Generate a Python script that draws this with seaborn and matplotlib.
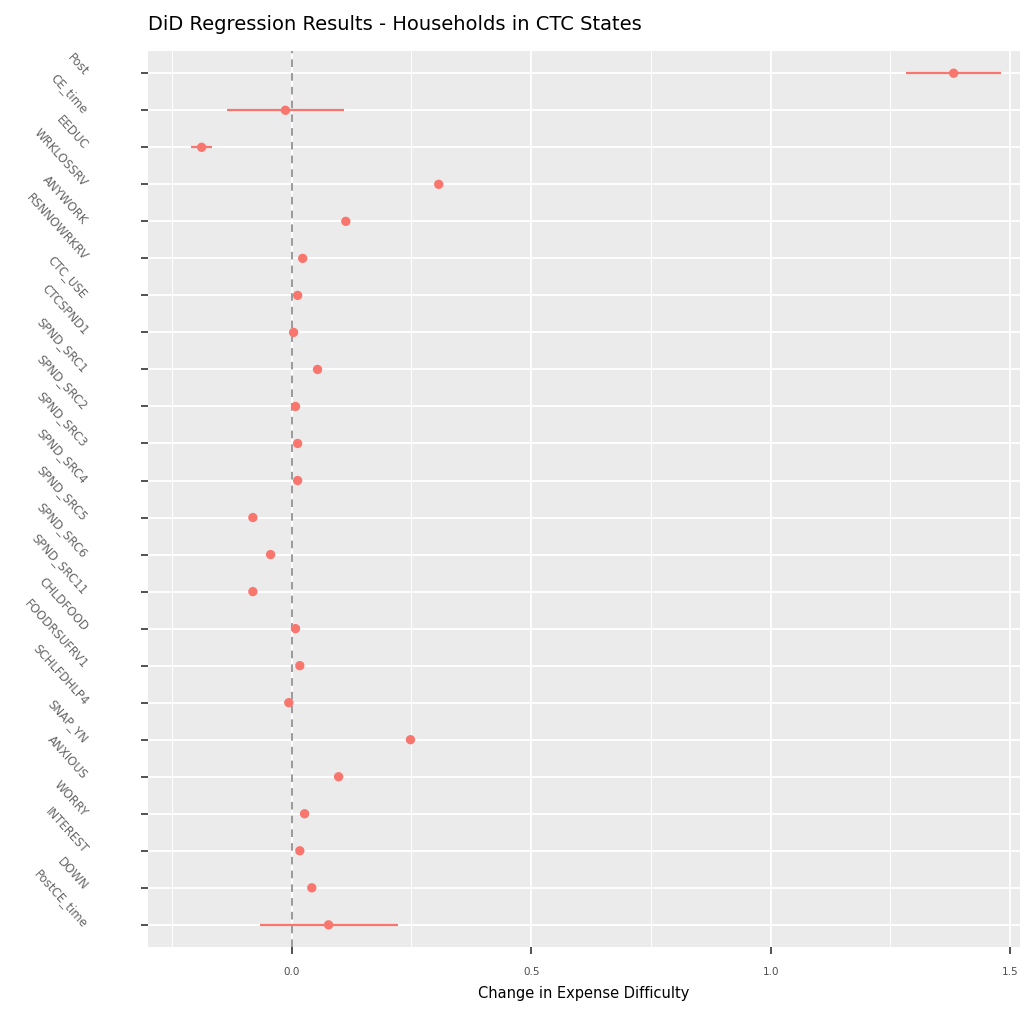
import numpy as np
import matplotlib
matplotlib.use("Agg")
import matplotlib.pyplot as plt
import seaborn as sns
import pandas as pd

terms = ["Post", "CE_time", "EEDUC", "WRKLOSSRV", "ANYWORK", "RSNNOWRKRV",
         "CTC_USE", "CTCSPND1", "SPND_SRC1", "SPND_SRC2", "SPND_SRC3",
         "SPND_SRC4", "SPND_SRC5", "SPND_SRC6", "SPND_SRC11", "CHLDFOOD",
         "FOODRSUFRV1", "SCHLFDHLP4", "SNAP_YN", "ANXIOUS", "WORRY",
         "INTEREST", "DOWN", "PostCE_time"]
coef = [1.382, -0.013, -0.188, 0.307, 0.113, 0.023, 0.0125, 0.004, 0.054,
        0.008, 0.0125, 0.0125, -0.081, -0.044, -0.081, 0.008, 0.017, -0.006,
        0.248, 0.098, 0.027, 0.017, 0.042, 0.077]
ci_low = [1.282, -0.136, -0.211, 0.302, 0.108, 0.019, 0.009, 0.001, 0.049,
          0.005, 0.009, 0.009, -0.085, -0.048, -0.085, 0.005, 0.013, -0.009,
          0.243, 0.093, 0.023, 0.013, 0.038, -0.067]
ci_high = [1.480, 0.109, -0.167, 0.312, 0.118, 0.027, 0.016, 0.007, 0.059,
           0.011, 0.016, 0.016, -0.077, -0.040, -0.077, 0.011, 0.021, -0.003,
           0.253, 0.103, 0.031, 0.021, 0.046, 0.223]

df = pd.DataFrame({"term": terms, "coef": coef, "lo": ci_low, "hi": ci_high})
df["pos"] = np.arange(len(df))

sns.set_theme(style="darkgrid")
plt.rcParams["font.family"] = ["DejaVu Sans"]

fig = plt.figure(figsize=(10.29, 10.12), dpi=100)
ax = fig.add_axes([0.1438, 0.0632, 0.8472, 0.8854])
ax.set_facecolor("#EBEBEB")

red = "#F8766D"
ax.hlines(df["pos"], df["lo"], df["hi"], color=red, linewidth=1.6, zorder=3)
sns.scatterplot(data=df, x="coef", y="pos", color=red, s=45,
                edgecolor="none", ax=ax, zorder=4)
ax.axvline(0, color="#7F7F7F", linestyle=(0, (5, 4)), linewidth=1.1, zorder=2)

ax.set_xlim(-0.30, 1.52)
ax.set_ylim(len(df) - 0.4, -0.6)
ax.set_xticks([0.0, 0.5, 1.0, 1.5])
ax.set_xticklabels(["0.0", "0.5", "1.0", "1.5"])
ax.set_xticks([-0.25, 0.25, 0.75, 1.25], minor=True)
ax.set_yticks(df["pos"])
ax.set_yticklabels(df["term"], rotation=-48, ha="right", va="center",
                   rotation_mode="anchor")

ax.grid(True, which="major", color="white", linewidth=1.3)
ax.grid(True, which="minor", axis="x", color="white", linewidth=0.7)
for s in ax.spines.values():
    s.set_visible(False)

ax.tick_params(axis="both", which="major", length=5, width=1.2,
               color="#333333", labelcolor="#4D4D4D", labelsize=7.5,
               bottom=True, left=True)
ax.tick_params(axis="y", pad=40, labelsize=8.5, labelcolor="#666666")
ax.tick_params(axis="x", pad=9)
ax.tick_params(which="minor", length=0)

ax.set_xlabel("Change in Expense Difficulty", fontsize=10.5, color="black",
              labelpad=6)
ax.set_ylabel("")
ax.set_title("DiD Regression Results - Households in CTC States",
             fontsize=14, loc="left", pad=16, color="black")

fig.savefig("out.png", dpi=100)
